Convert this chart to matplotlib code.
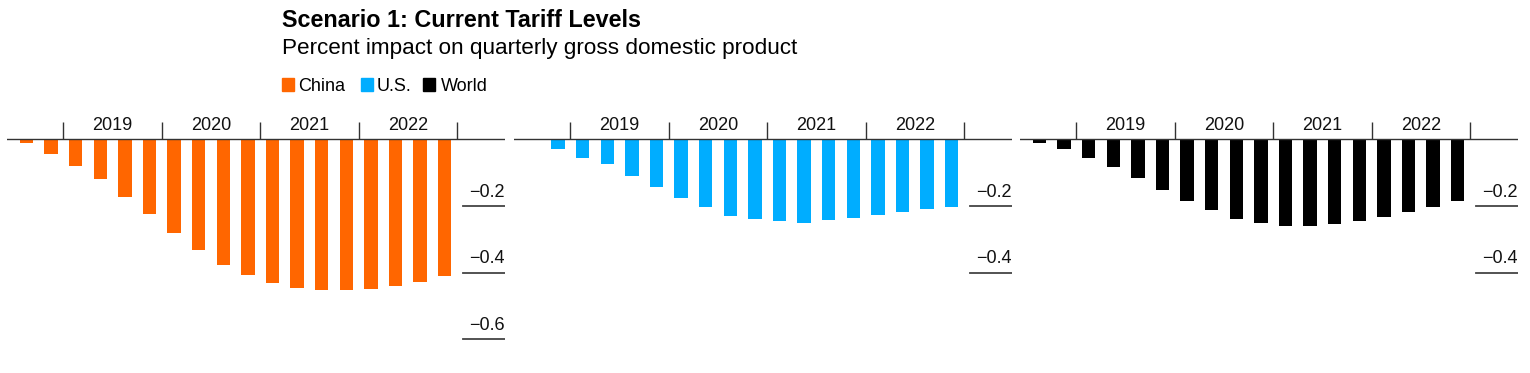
import numpy as np
import matplotlib
matplotlib.use("Agg")
import matplotlib.pyplot as plt
import matplotlib.transforms as mtransforms

plt.rcParams['font.family'] = ['Liberation Sans', 'DejaVu Sans']

# quarters from 2018 Q3 to 2022 Q4
quarters = ["2018Q3", "2018Q4"] + [f"{y}Q{q}" for y in range(2019, 2023) for q in range(1, 5)]
years = ["2019", "2020", "2021", "2022"]

china = [-0.010, -0.043, -0.079, -0.118, -0.172, -0.225, -0.280, -0.332, -0.376,
         -0.406, -0.430, -0.447, -0.453, -0.453, -0.448, -0.439, -0.427, -0.410]
us = [-0.001, -0.029, -0.055, -0.075, -0.110, -0.144, -0.176, -0.204, -0.231,
      -0.239, -0.244, -0.250, -0.243, -0.235, -0.226, -0.219, -0.210, -0.203]
world = [-0.010, -0.030, -0.055, -0.082, -0.117, -0.152, -0.184, -0.213, -0.238,
         -0.251, -0.259, -0.261, -0.255, -0.245, -0.234, -0.219, -0.203, -0.185]

panels = [
    ("China", china, "#ff6600", [-0.2, -0.4, -0.6]),
    ("U.S.", us, "#00adff", [-0.2, -0.4]),
    ("World", world, "#000000", [-0.2, -0.4]),
]

W, H = 1530, 373
fig = plt.figure(figsize=(W / 100, H / 100), dpi=100)

ylo, yhi = -0.66, 0.12
px_per_unit = 333.3
zero_px = 139.3
ax_top = zero_px - yhi * px_per_unit
ax_h = (yhi - ylo) * px_per_unit
lefts = [7, 514, 1020]
ax_w = 498

x = np.arange(len(quarters))
bounds = [1.5, 5.5, 9.5, 13.5, 17.5]
centers = [3.5, 7.5, 11.5, 15.5]

for left, (name, vals, color, yticks) in zip(lefts, panels):
    ax = fig.add_axes([left / W, 1 - (ax_top + ax_h) / H, ax_w / W, ax_h / H])
    ax.bar(x, vals, width=0.54, color=color, zorder=2)
    ax.set_xlim(-0.79, 19.45)
    ax.set_ylim(ylo, yhi)
    ax.axhline(0, color="#333333", lw=1.0, zorder=3)
    ax.vlines(bounds, 0, 0.052, color="#333333", lw=1.0, zorder=3)
    for c, yr in zip(centers, years):
        ax.text(c, 0.028, yr, ha="center", va="baseline", fontsize=13, color="#111111")
    trans = mtransforms.blended_transform_factory(ax.transAxes, ax.transData)
    for yt in yticks:
        ax.axhline(yt, xmin=0.916, xmax=1.0, color="#444444", lw=1.3, zorder=3)
        ax.text(1.0, yt + 0.028, f"\u2212{abs(yt):.1f}", transform=trans,
                ha="right", va="baseline", fontsize=13, color="#111111")
    ax.axis("off")

# title block
tx = 282 / W
fig.text(tx, 1 - 27.3 / H, "Scenario 1: Current Tariff Levels", fontsize=16.8,
         fontweight="bold", ha="left", va="baseline", color="#000000")
fig.text(tx, 1 - 54 / H, "Percent impact on quarterly gross domestic product",
         fontsize=16.2, ha="left", va="baseline", color="#000000")

# legend
leg = [("China", "#ff6600", 281.7, 298), ("U.S.", "#00adff", 360.7, 377),
       ("World", "#000000", 423, 441)]
for label, color, sx, lx in leg:
    fig.patches.append(plt.Rectangle((sx / W, 1 - 90.7 / H), 12 / W, 13 / H,
                                     transform=fig.transFigure, color=color))
    fig.text(lx / W, 1 - 90.7 / H, label, fontsize=13, ha="left", va="baseline")

fig.savefig("out.png", dpi=100)
